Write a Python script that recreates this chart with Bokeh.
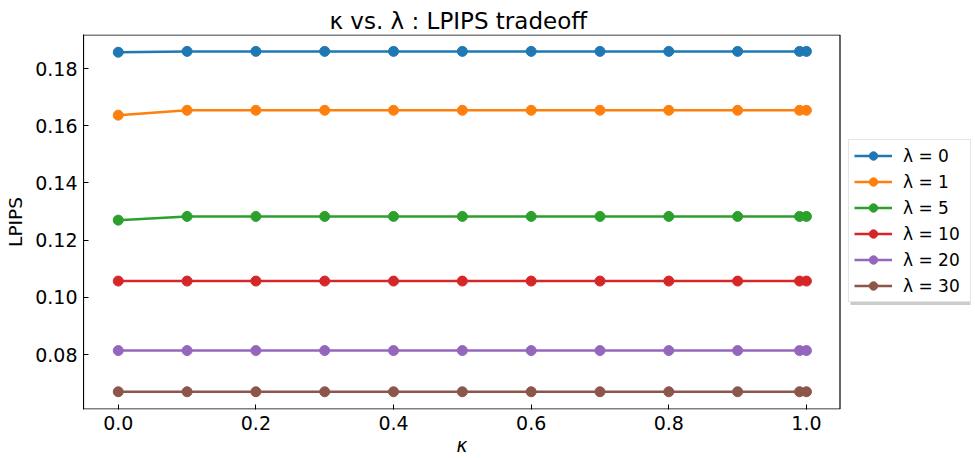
from bokeh.plotting import figure
from bokeh.models import (FixedTicker, PrintfTickFormatter, Legend, LegendItem, Range1d,
                          BoxAnnotation, Title)
from bokeh.embed import file_html
from bokeh.resources import INLINE

kappa = [0.0, 0.1, 0.2, 0.3, 0.4, 0.5, 0.6, 0.7, 0.8, 0.9, 0.99, 1.0]
lam_labels = ["λ = 0", "λ = 1", "λ = 5", "λ = 10", "λ = 20", "λ = 30"]
lpips_l0 = [0.1857, 0.1860, 0.1860, 0.1860, 0.1860, 0.1860, 0.1860, 0.1860, 0.1860, 0.1860, 0.1860, 0.1860]
lpips_l1 = [0.1637, 0.1654, 0.1654, 0.1654, 0.1654, 0.1654, 0.1654, 0.1654, 0.1654, 0.1654, 0.1654, 0.1654]
lpips_l5 = [0.1270, 0.1283, 0.1283, 0.1283, 0.1283, 0.1283, 0.1283, 0.1283, 0.1283, 0.1283, 0.1283, 0.1283]
lpips_l10 = [0.1057, 0.1057, 0.1057, 0.1057, 0.1057, 0.1057, 0.1057, 0.1057, 0.1057, 0.1057, 0.1057, 0.1057]
lpips_l20 = [0.0814, 0.0814, 0.0814, 0.0814, 0.0814, 0.0814, 0.0814, 0.0814, 0.0814, 0.0814, 0.0814, 0.0814]
lpips_l30 = [0.0670, 0.0670, 0.0670, 0.0670, 0.0670, 0.0670, 0.0670, 0.0670, 0.0670, 0.0670, 0.0670, 0.0670]
series = [lpips_l0, lpips_l1, lpips_l5, lpips_l10, lpips_l20, lpips_l30]
colors = ["#1f77b4", "#ff7f0e", "#2ca02c", "#d62728", "#9467bd", "#8c564b"]
x_ticks = [0.0, 0.2, 0.4, 0.6, 0.8, 1.0]
y_ticks = [0.08, 0.10, 0.12, 0.14, 0.16, 0.18]

FONT = "DejaVu Sans"

# Axes box geometry (pixels) and data limits
AX_LEFT, AX_RIGHT, AX_TOP, AX_BOTTOM = 83, 840, 34, 409
XMIN, XMAX = -0.0505, 1.0495
YMIN, YMAX = 0.0608, 0.1919
W, H = 975, 458
x_per_px = (XMAX - XMIN) / (AX_RIGHT - AX_LEFT)
y_per_px = (YMAX - YMIN) / (AX_BOTTOM - AX_TOP)
frame_w = W - AX_LEFT
x_end = XMIN + frame_w * x_per_px


def px_x(px):
    return XMIN + (px - AX_LEFT) * x_per_px


def px_y(py):
    return YMIN + (AX_BOTTOM - py) * y_per_px


p = figure(frame_width=frame_w, frame_height=AX_BOTTOM - AX_TOP, output_backend="svg",
           toolbar_location=None,
           x_range=Range1d(XMIN, x_end), y_range=Range1d(YMIN, YMAX),
           min_border_left=AX_LEFT, min_border_right=0, min_border_top=AX_TOP,
           min_border_bottom=H - AX_BOTTOM)

TITLE = "κ vs. λ : LPIPS tradeoff"
p.title.text = TITLE
p.title.align = "left"
p.title.offset = 246
p.title.text_font = FONT
p.title.text_font_size = "23px"
p.title.text_font_style = "normal"
p.title.text_color = "black"
p.title.standoff = 2

p.xgrid.visible = False
p.ygrid.visible = False
p.outline_line_color = None

for ax in (p.xaxis[0], p.yaxis[0]):
    ax.major_tick_in = 5
    ax.major_tick_out = 0
    ax.minor_tick_in = 0
    ax.minor_tick_out = 0
    ax.major_label_text_font = FONT
    ax.major_label_text_font_size = "19px"
    ax.major_label_text_color = "black"
    ax.axis_label_text_font = FONT
    ax.axis_label_text_font_size = "18.5px"
    ax.axis_label_text_color = "black"
    ax.major_tick_line_color = "black"

p.xaxis.axis_line_color = None
p.yaxis.axis_line_color = "black"
p.xaxis.ticker = FixedTicker(ticks=x_ticks)
p.yaxis.ticker = FixedTicker(ticks=y_ticks)
p.xaxis.formatter = PrintfTickFormatter(format="%.1f")
p.yaxis.formatter = PrintfTickFormatter(format="%.2f")
p.yaxis.axis_label = "LPIPS"
p.yaxis.axis_label_text_font_style = "normal"
p.xaxis.major_label_standoff = 6
p.yaxis.major_label_standoff = 6
p.yaxis.axis_label_standoff = 6

xlabel = Title(text="κ", align="left", offset=373, text_font=FONT, text_font_size="18.5px",
               text_font_style="italic", text_color="black", standoff=0)
p.add_layout(xlabel, "below")

# axes box (inset half a pixel so the 1px border is not clipped at the frame edges)
box = BoxAnnotation(left=XMIN, right=XMAX - 0.5 * x_per_px,
                    bottom=YMIN + 0.5 * y_per_px, top=YMAX - 0.5 * y_per_px,
                    fill_alpha=0, line_color="black", line_alpha=1, line_width=1.2)
p.add_layout(box)

renderers = []
for vals, c in zip(series, colors):
    r1 = p.line(kappa, vals, line_color=c, line_width=2.5)
    r2 = p.scatter(kappa, vals, size=10, fill_color=c, line_color=c)
    renderers.append([r1, r2])

# legend shadow
shadow = BoxAnnotation(left=px_x(850), right=px_x(970), bottom=px_y(304.5), top=px_y(143),
                       fill_color="#999999", fill_alpha=0.5, line_color=None)
p.add_layout(shadow)

items = [LegendItem(label=lab, renderers=rs) for lab, rs in zip(lam_labels, renderers)]
legend = Legend(items=items, location=(848 - AX_LEFT, AX_BOTTOM - 302))
legend.label_text_font = FONT
legend.label_text_font_size = "17px"
legend.label_text_color = "black"
legend.border_line_color = "#cccccc"
legend.border_line_width = 1
legend.background_fill_color = "white"
legend.background_fill_alpha = 1
legend.margin = 0
legend.padding = 5
legend.spacing = 5
legend.label_height = 21
legend.glyph_height = 21
legend.glyph_width = 38
legend.label_standoff = 11
legend.label_width = 62
p.add_layout(legend, "center")

open("out.html", "w").write(file_html(p, INLINE))
